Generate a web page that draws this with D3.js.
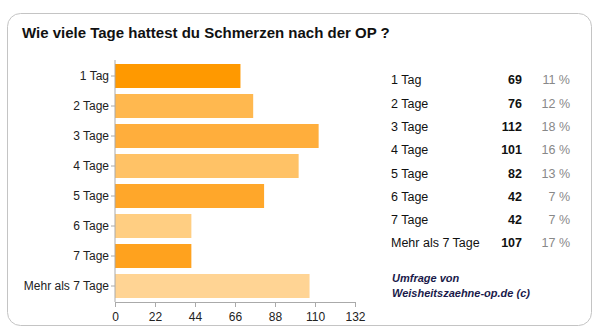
<!DOCTYPE html>
<html><head><meta charset="utf-8">
<script src="https://cdn.jsdelivr.net/npm/d3@7"></script>
<style>body{margin:0;background:#fff;}svg{display:block;font-family:Arial,"Liberation Sans",sans-serif;}</style>
</head><body>
<script>
const title = "Wie viele Tage hattest du Schmerzen nach der OP ?";
const categories = ["1 Tag","2 Tage","3 Tage","4 Tage","5 Tage","6 Tage","7 Tage","Mehr als 7 Tage"];
const values = [69,76,112,101,82,42,42,107];
const percents = ["11 %","12 %","18 %","16 %","13 %","7 %","7 %","17 %"];
const barColors = ["#FF9900","#FFB84F","#FFAE3C","#FFC266","#FFA72A","#FFCE82","#FFA21E","#FFD494"];
const xTicks = [0,22,44,66,88,110,132];
const footer = ["Umfrage von","Weisheitszaehne-op.de (c)"];

const W=613,H=336;
const svg=d3.select("body").append("svg").attr("width",W).attr("height",H);
svg.append("rect").attr("x",7.5).attr("y",13.5).attr("width",584).attr("height",312)
  .attr("rx",13).attr("fill","#fff").attr("stroke","#c4c4c4");
svg.append("text").attr("x",22).attr("y",38).attr("font-size",15).attr("font-weight","bold")
  .attr("fill","#111").text(title);

const x=d3.scaleLinear().domain([0,132]).range([115,355]);
const y=d3.scaleBand().domain(categories).range([61,301]).paddingInner(0.2).paddingOuter(0.1);

svg.selectAll("rect.bar").data(categories).enter().append("rect").attr("class","bar")
  .attr("x",x(0)).attr("y",d=>y(d)).attr("height",y.bandwidth())
  .attr("width",(d,i)=>x(values[i])-x(0)).attr("fill",(d,i)=>barColors[i]);

const gx=svg.append("g").attr("transform","translate(0,302)")
  .call(d3.axisBottom(x).tickValues(xTicks).tickSize(5).tickSizeOuter(0));
const gy=svg.append("g").attr("transform","translate(115,0)")
  .call(d3.axisLeft(y).tickSize(4).tickSizeOuter(0));
gy.select(".domain").attr("d","M0,60V302");
[gx,gy].forEach(g=>{
  g.selectAll(".domain").attr("stroke","#aaa");
  g.selectAll(".tick line").attr("stroke","#aaa");
  g.selectAll("text").attr("font-size",12).attr("fill","#222").attr("font-family","Arial,'Liberation Sans',sans-serif");
});
gx.selectAll("text").attr("dy","0.9em");
gy.selectAll("text").attr("x",-6);

const ty=d3.scalePoint().domain(categories).range([80,243]);
const tbl=svg.append("g").attr("font-size",12.5);
tbl.selectAll("text.l").data(categories).enter().append("text").attr("class","l")
  .attr("x",391).attr("y",d=>ty(d)).attr("dy","0.35em").attr("fill","#111").text(d=>d);
tbl.selectAll("text.v").data(categories).enter().append("text").attr("class","v")
  .attr("x",522).attr("y",d=>ty(d)).attr("dy","0.35em").attr("text-anchor","end")
  .attr("font-weight","bold").attr("fill","#111").text((d,i)=>values[i]);
tbl.selectAll("text.p").data(categories).enter().append("text").attr("class","p")
  .attr("x",570).attr("y",d=>ty(d)).attr("dy","0.35em").attr("text-anchor","end")
  .attr("fill","#888").text((d,i)=>percents[i]);

svg.selectAll("text.f").data(footer).enter().append("text").attr("class","f")
  .attr("x",392).attr("y",(d,i)=>282+i*15).attr("font-size",11).attr("font-weight","bold")
  .attr("font-style","italic").attr("fill","#1a1a4a").text(d=>d);
</script>
</body></html>
